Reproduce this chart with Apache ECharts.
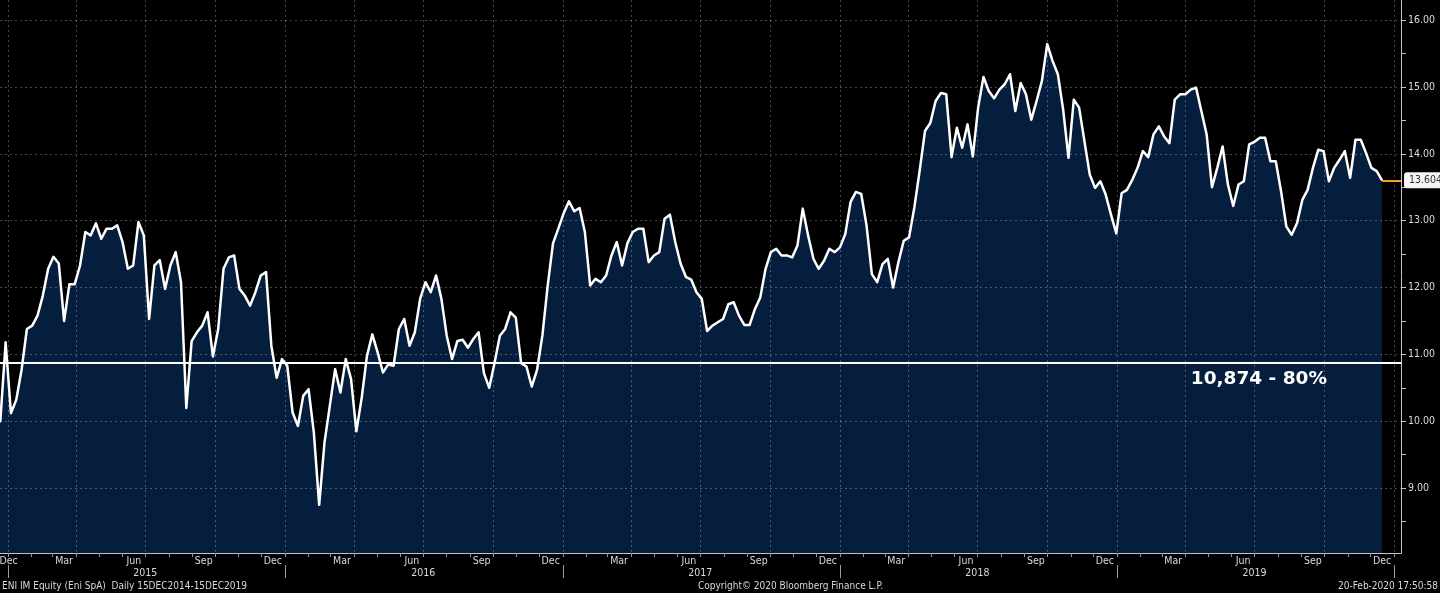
<!DOCTYPE html>
<html>
<head>
<meta charset="utf-8">
<style>
html,body{margin:0;padding:0;background:#000;}
#chart{width:1440px;height:593px;}
</style>
<script src="https://cdn.jsdelivr.net/npm/echarts@6/dist/echarts.min.js"></script>
</head>
<body>
<div id="chart"></div>
<script>
// Weekly closes (EUR), Eni SpA, starting Mon 15 Dec 2014
const startYMD = [2014, 11, 15];
const prices = [
10.05,10.00,11.18,10.12,10.32,10.77,11.38,11.43,11.58,11.88,
12.28,12.46,12.36,11.50,12.05,12.05,12.33,12.83,12.78,12.96,
12.73,12.88,12.88,12.93,12.68,12.28,12.33,12.98,12.78,11.53,
12.33,12.41,11.98,12.33,12.53,12.08,10.20,11.20,11.33,11.43,
11.63,10.97,11.38,12.28,12.45,12.48,11.98,11.88,11.73,11.93,
12.18,12.23,11.13,10.65,10.93,10.83,10.13,9.93,10.38,10.48,
9.83,8.75,9.68,10.23,10.78,10.43,10.93,10.63,9.85,10.35,
10.98,11.30,11.03,10.73,10.85,10.83,11.38,11.53,11.13,11.33,
11.83,12.08,11.93,12.18,11.83,11.28,10.93,11.20,11.22,11.10,
11.23,11.33,10.72,10.50,10.87,11.28,11.38,11.63,11.55,10.87,
10.82,10.52,10.77,11.28,12.03,12.66,12.88,13.11,13.29,13.14,
13.19,12.83,12.03,12.13,12.08,12.18,12.48,12.68,12.33,12.66,
12.83,12.88,12.88,12.38,12.48,12.53,13.03,13.09,12.68,12.36,
12.16,12.12,11.93,11.83,11.35,11.43,11.48,11.53,11.75,11.78,
11.58,11.44,11.44,11.68,11.85,12.28,12.53,12.58,12.48,12.48,
12.45,12.63,13.18,12.78,12.43,12.28,12.40,12.58,12.53,12.60,
12.80,13.28,13.43,13.40,12.93,12.20,12.08,12.35,12.43,12.00,
12.38,12.70,12.75,13.20,13.75,14.34,14.46,14.79,14.91,14.89,
13.95,14.39,14.09,14.44,13.96,14.69,15.15,14.94,14.83,14.96,
15.04,15.19,14.64,15.06,14.89,14.51,14.79,15.09,15.64,15.39,
15.19,14.66,13.94,14.81,14.69,14.19,13.69,13.49,13.59,13.39,
13.09,12.81,13.41,13.46,13.61,13.79,14.04,13.95,14.29,14.41,
14.26,14.16,14.81,14.89,14.89,14.96,14.99,14.64,14.29,13.50,
13.79,14.11,13.54,13.22,13.54,13.59,14.14,14.18,14.24,14.24,
13.89,13.89,13.44,12.91,12.79,12.96,13.31,13.46,13.79,14.06,
14.04,13.59,13.79,13.91,14.04,13.64,14.21,14.21,14.01,13.79,
13.74,13.604
];
const lastPrice = 13.604;
const thresholdValue = 10.874;
const thresholdText = '10,874 - 80%';
const yLabelValues = [9, 10, 11, 12, 13, 14, 15, 16];
const yTickValues = [8.5, 9, 9.5, 10, 10.5, 11, 11.5, 12, 12.5, 13, 13.5, 14, 14.5, 15, 15.5, 16];
const monthNames = ['Jan','Feb','Mar','Apr','May','Jun','Jul','Aug','Sep','Oct','Nov','Dec'];
const years = [2015, 2016, 2017, 2018, 2019];
const footerLeft = 'ENI IM Equity (Eni SpA)  Daily 15DEC2014-15DEC2019';
const footerMid = 'Copyright\u00A9 2020 Bloomberg Finance L.P.';
const footerRight = '20-Feb-2020 17:50:58';

const d = (y, m, day) => new Date(y, m, day).getTime();
const xMin = d(2014, 11, 15);
const xMax = d(2020, 0, 10);
const dates = prices.map((_, i) => d(startYMD[0], startYMD[1], startYMD[2] + 7 * i));
const seriesData = prices.map((v, i) => [dates[i], v]);

// axis helper values
const quarterStarts = [];
const monthStarts = [];
const yearStarts = [];
const midYears = [];
const quarterLabels = [d(2015, 0, 2)];
for (let y = 2015; y <= 2020; y++) {
  for (let m = 0; m < 12; m++) {
    const t = d(y, m, 1);
    if (t > xMax) break;
    monthStarts.push(t);
    if (m % 3 === 0) quarterStarts.push(t);
  }
  yearStarts.push(d(y, 0, 1));
}
years.forEach(y => midYears.push(d(y, 6, 1)));
for (let y = 2015; y <= 2019; y++) {
  [2, 5, 8, 11].forEach(m => quarterLabels.push(d(y, m, 16)));
}

const FONT = 'DejaVu Sans Condensed';
const gridColor = 'rgba(255,255,255,0.28)';
const textColor = '#dadada';

const chart = echarts.init(document.getElementById('chart'), null, {renderer: 'canvas'});
chart.setOption({
  backgroundColor: '#000',
  animation: false,
  title: [
    {text: footerLeft, left: 2, top: 581, padding: 0, textStyle: {color: textColor, fontSize: 10, fontWeight: 'normal', fontFamily: FONT}},
    {text: footerMid, left: 698, top: 581, padding: 0, textStyle: {color: textColor, fontSize: 10, fontWeight: 'normal', fontFamily: FONT}},
    {text: footerRight, right: 2, top: 581, padding: 0, textStyle: {color: textColor, fontSize: 10, fontWeight: 'normal', fontFamily: FONT}}
  ],
  grid: {left: -5, right: 39, top: 0, bottom: 40, containLabel: false, outerBoundsMode: 'none'},
  xAxis: [
    {
      type: 'value', position: 'bottom', min: xMin, max: xMax, scale: true,
      axisLine: {show: true, onZero: false, lineStyle: {color: '#c4c4c4', width: 1}},
      axisTick: {show: false, customValues: quarterStarts},
      splitLine: {show: true, lineStyle: {color: gridColor, type: [2, 3], width: 1}},
      axisLabel: {
        show: true, customValues: quarterLabels, margin: 3,
        color: textColor, fontSize: 10.5, fontFamily: FONT,
        formatter: v => monthNames[new Date(v).getMonth() === 0 ? 11 : new Date(v).getMonth()]
      }
    },
    {
      type: 'value', position: 'bottom', min: xMin, max: xMax, scale: true,
      axisLine: {show: false, onZero: false},
      axisTick: {show: true, customValues: monthStarts, length: 4, lineStyle: {color: '#9a9a9a'}},
      splitLine: {show: false},
      axisLabel: {show: false}
    },
    {
      type: 'value', position: 'bottom', offset: 12, min: xMin, max: xMax, scale: true,
      axisLine: {show: false, onZero: false},
      axisTick: {show: true, customValues: yearStarts, length: 13, lineStyle: {color: '#9a9a9a'}},
      splitLine: {show: false},
      axisLabel: {
        show: true, customValues: midYears, margin: 3,
        color: textColor, fontSize: 10.5, fontFamily: FONT,
        formatter: v => String(new Date(v).getFullYear())
      }
    }
  ],
  yAxis: [
    {
      type: 'value', position: 'right', min: 8.03, max: 16.3,
      axisLine: {show: true, onZero: false, lineStyle: {color: '#c4c4c4', width: 1}},
      axisTick: {show: true, inside: false, length: 5, customValues: yTickValues, lineStyle: {color: '#c4c4c4'}},
      splitLine: {show: false},
      axisLabel: {
        show: true, customValues: yLabelValues, margin: 7,
        color: textColor, fontSize: 10.5, fontFamily: FONT,
        formatter: v => v.toFixed(2)
      }
    },
    {
      type: 'value', position: 'right', min: 8.03, max: 16.3,
      axisLine: {show: false},
      axisTick: {show: false, customValues: yLabelValues},
      axisLabel: {show: false},
      splitLine: {show: true, lineStyle: {color: gridColor, type: [2, 3], width: 1}}
    }
  ],
  series: [
    {
      name: 'area', type: 'line', xAxisIndex: 0, yAxisIndex: 0,
      data: seriesData, showSymbol: false, symbol: 'none', z: -1,
      lineStyle: {width: 0, opacity: 0},
      areaStyle: {color: '#061e3e', opacity: 1, origin: 'start'},
      silent: true
    },
    {
      name: 'ENI IM Equity', type: 'line', xAxisIndex: 0, yAxisIndex: 0,
      data: seriesData, showSymbol: false, symbol: 'none', z: 3, clip: false,
      lineStyle: {color: '#ffffff', width: 2.5, join: 'round'},
      markLine: {
        silent: true, symbol: ['none', 'none'], animation: false,
        data: [
          [
            {
              coord: [xMin, thresholdValue],
              lineStyle: {color: '#ffffff', width: 2, type: 'solid'},
              label: {
                show: true, formatter: thresholdText, position: 'insideEndBottom',
                distance: [74, 7], color: '#ffffff', fontSize: 18.5, fontWeight: 'bold',
                fontFamily: 'DejaVu Sans'
              }
            },
            {coord: [xMax, thresholdValue]}
          ],
          [
            {
              coord: [dates[dates.length - 1], lastPrice],
              lineStyle: {color: '#f5a020', width: 2, type: 'solid'},
              label: {
                show: true, formatter: lastPrice.toFixed(3), position: 'end', distance: 3,
                color: '#333', backgroundColor: '#f4f4f4', padding: [3, 3, 2, 5], borderRadius: 3,
                fontSize: 10.5, fontFamily: FONT
              }
            },
            {coord: [xMax, lastPrice]}
          ]
        ]
      }
    }
  ]
});
</script>
</body>
</html>
